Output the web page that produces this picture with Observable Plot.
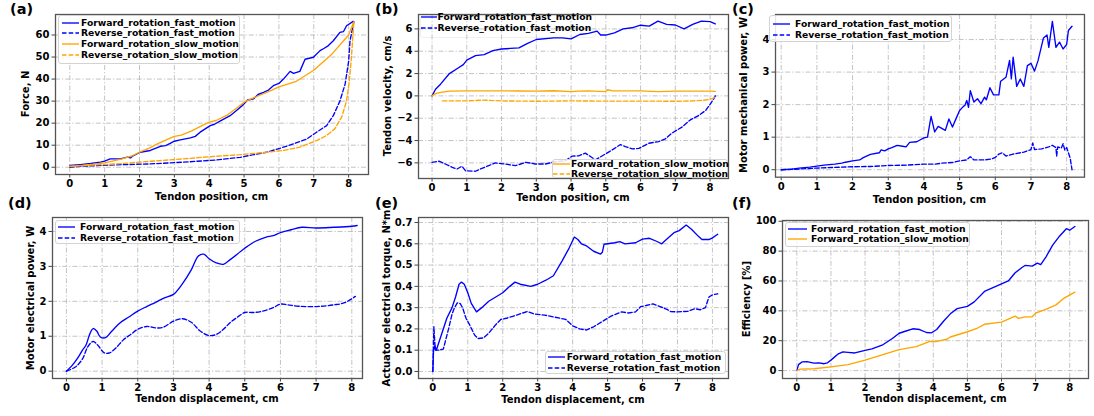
<!DOCTYPE html>
<html><head><meta charset="utf-8">
<script src="https://cdn.jsdelivr.net/npm/d3@7"></script>
<script src="https://cdn.jsdelivr.net/npm/@observablehq/plot@0.6"></script>
<style>
body{margin:0;background:#fff;}
#fig{position:relative;width:1094px;height:416px;overflow:hidden;font-family:"DejaVu Sans",sans-serif;font-weight:bold;color:#000;background:#fff;}
.abs{position:absolute;white-space:nowrap;line-height:1;}
.leg{position:absolute;background:rgba(255,255,255,0.85);border:1px solid #d3d3d3;border-radius:3px;box-sizing:border-box;}
</style></head><body><div id="fig"></div>
<script>
// ---------- data ----------
const xTicks = [0,1,2,3,4,5,6,7,8];
const seriesNames = ["Forward_rotation_fast_motion","Reverse_rotation_fast_motion","Forward_rotation_slow_motion","Reverse_rotation_slow_motion"];

// (a) Force, N vs tendon position
const aFwdFast = [[0,0.8],[0.3,1.2],[0.6,1.7],[0.88,2.3],[1.0,2.8],[1.16,3.8],[1.45,3.8],[1.65,4.6],[1.74,4.2],[1.8,5.0],[2.02,6.8],[2.31,7.6],[2.6,9.5],[2.75,9.8],[2.88,10.8],[3.0,11.8],[3.17,12.4],[3.46,13.3],[3.6,14.0],[3.74,15.9],[4.03,18.9],[4.15,19.5],[4.31,20.9],[4.6,23.4],[4.8,26],[4.98,28.4],[5.1,30.5],[5.27,31],[5.4,33],[5.56,34],[5.7,35],[5.84,37],[6.0,38],[6.13,40],[6.32,43.5],[6.42,42.6],[6.6,43.5],[6.75,49],[6.99,49.9],[7.18,52.9],[7.3,54],[7.42,55.2],[7.56,57.4],[7.75,61.2],[7.85,61.5],[7.94,64.2],[8.13,66.2]];
const aRevFast = [[0,0],[0.4,0.5],[1.36,1.1],[2.31,1.5],[3.26,2.3],[4.22,3.3],[4.89,4.5],[5.27,5.7],[5.65,6.8],[6.03,8.6],[6.42,10.6],[6.8,12.8],[7.08,15.9],[7.37,18.9],[7.56,23.4],[7.75,30],[7.9,37.8],[8.0,48],[8.04,57.4],[8.15,66]];
const aFwdSlow = [[0,0.3],[0.5,1.0],[1.0,2.0],[1.5,3.8],[1.8,5.2],[2.0,6.8],[2.3,8.8],[2.5,10.5],[2.8,12.6],[3.0,14],[3.2,14.6],[3.5,16.5],[3.75,18.5],[4.0,20.5],[4.2,21.2],[4.5,23.5],[4.8,27],[5.0,29.5],[5.2,31],[5.5,33],[5.8,35],[6.0,36.5],[6.5,39],[7.0,44],[7.5,51],[8.0,60],[8.15,66]];
const aRevSlow = [[0,0.5],[0.4,0.8],[1.36,1.5],[2.31,2.7],[3.26,3.8],[4.22,5],[4.89,5.7],[5.65,6.8],[6.13,7.6],[6.6,9.1],[7.08,12.1],[7.37,14.4],[7.6,17.4],[7.8,22.7],[7.94,30],[8.02,39],[8.08,50],[8.15,66]];

// (b) Tendon velocity, cm/s
const bFwdFast = [[0,0],[0.1,0.6],[0.25,1.07],[0.5,2.0],[0.75,2.5],[0.9,2.8],[1.0,3.2],[1.25,3.6],[1.5,3.7],[1.75,4.05],[2.0,4.2],[2.25,4.25],[2.5,4.3],[2.75,4.7],[3.0,5.05],[3.5,5.2],[3.75,5.2],[4.0,5.1],[4.25,5.5],[4.5,5.6],[4.75,5.8],[4.85,5.45],[5.0,5.45],[5.25,5.65],[5.5,6.0],[5.75,6.1],[6.0,6.33],[6.25,6.25],[6.5,6.7],[6.75,6.4],[7.0,6.35],[7.25,6.0],[7.5,6.4],[7.75,6.7],[8.0,6.65],[8.15,6.45]];
const bRevFast = [[0,-5.95],[0.2,-5.85],[0.38,-6.1],[0.58,-6.4],[0.72,-6.55],[0.86,-6.3],[0.96,-6.7],[1.25,-6.75],[1.39,-6.55],[1.63,-6.25],[1.82,-6.0],[2.1,-6.1],[2.4,-6.25],[2.7,-5.95],[2.97,-6.1],[3.26,-6.1],[3.55,-5.9],[3.84,-5.8],[4.03,-5.4],[4.22,-5.37],[4.41,-5.13],[4.7,-5.73],[4.8,-5.55],[4.99,-5.2],[5.23,-4.75],[5.42,-4.36],[5.56,-4.54],[5.76,-4.75],[5.95,-4.7],[6.24,-4.24],[6.52,-4.1],[6.71,-3.85],[6.9,-3.34],[7.19,-2.8],[7.43,-2.15],[7.67,-1.76],[7.87,-1.31],[8.01,-0.72],[8.12,-0.18],[8.15,0]];
const bFwdSlow = [[0,0],[0.1,0.2],[0.25,0.32],[0.5,0.42],[1,0.45],[1.5,0.45],[2,0.45],[2.5,0.44],[3,0.43],[3.5,0.46],[4,0.38],[4.2,0.43],[4.5,0.45],[5,0.38],[5.05,0.55],[5.2,0.45],[6,0.45],[6.5,0.38],[7,0.43],[7.5,0.42],[8,0.43],[8.15,0.4]];
const bRevSlow = [[0.3,-0.45],[1,-0.45],[1.5,-0.38],[2,-0.45],[3,-0.48],[4,-0.45],[5,-0.47],[6,-0.47],[7,-0.48],[7.5,-0.45],[7.8,-0.4],[8.0,-0.3],[8.1,-0.2],[8.15,0]];

// (c) Motor mechanical power, W
const cFwdFast = [[0,0],[0.3,0.02],[0.5,0.05],[0.8,0.08],[1.0,0.11],[1.2,0.14],[1.5,0.17],[1.7,0.2],[1.8,0.23],[2.0,0.27],[2.2,0.3],[2.3,0.37],[2.5,0.47],[2.75,0.52],[2.8,0.61],[2.9,0.58],[3.0,0.64],[3.1,0.68],[3.25,0.75],[3.4,0.72],[3.5,0.7],[3.6,0.84],[3.8,0.86],[3.9,0.92],[4.0,0.98],[4.1,1.0],[4.2,1.64],[4.3,1.16],[4.4,1.33],[4.6,1.21],[4.7,1.56],[4.8,1.31],[4.9,1.57],[5.0,1.82],[5.1,1.94],[5.15,1.98],[5.2,2.13],[5.25,1.92],[5.3,2.43],[5.4,2.08],[5.5,2.18],[5.6,2.03],[5.7,2.23],[5.75,2.15],[5.85,2.52],[5.95,2.3],[6.1,2.3],[6.15,2.72],[6.3,2.84],[6.4,3.36],[6.45,2.79],[6.5,3.46],[6.6,2.56],[6.7,2.79],[6.8,2.56],[6.9,3.2],[7.0,3.27],[7.1,3.03],[7.2,3.36],[7.35,4.05],[7.45,4.14],[7.5,3.76],[7.6,4.56],[7.7,3.76],[7.8,3.92],[7.9,3.71],[8.0,3.85],[8.05,4.28],[8.15,4.41]];
const cRevFast = [[0,0],[0.5,0.02],[1.0,0.05],[1.5,0.07],[2.0,0.09],[2.5,0.1],[3.0,0.13],[3.5,0.14],[4.0,0.17],[4.3,0.17],[4.5,0.2],[4.8,0.22],[5.0,0.27],[5.2,0.3],[5.3,0.4],[5.4,0.3],[5.7,0.3],[5.9,0.33],[6.0,0.38],[6.1,0.48],[6.2,0.52],[6.3,0.42],[6.5,0.48],[6.8,0.54],[7.0,0.62],[7.05,0.82],[7.1,0.62],[7.3,0.64],[7.5,0.7],[7.6,0.75],[7.7,0.68],[7.72,0.42],[7.75,0.7],[7.85,0.66],[7.9,0.8],[7.95,0.6],[8.0,0.68],[8.05,0.52],[8.1,0.35],[8.15,0.0]];

// (d) Motor electrical power, W
const dFwdFast = [[0,0],[0.15,0.15],[0.3,0.35],[0.45,0.6],[0.55,0.75],[0.65,1.05],[0.75,1.22],[0.85,1.15],[0.95,0.98],[1.1,0.96],[1.25,1.12],[1.5,1.38],[1.75,1.55],[2.0,1.72],[2.25,1.85],[2.5,1.97],[2.75,2.1],[3.0,2.2],[3.25,2.5],[3.5,2.9],[3.7,3.3],[3.85,3.35],[4.0,3.22],[4.2,3.1],[4.4,3.06],[4.6,3.2],[5.0,3.52],[5.3,3.72],[5.6,3.84],[5.8,3.88],[6.0,3.97],[6.3,4.05],[6.6,4.12],[7.0,4.1],[7.5,4.12],[8.0,4.15],[8.15,4.17]];
const dRevFast = [[0,0],[0.25,0.12],[0.45,0.35],[0.6,0.7],[0.75,0.85],[0.9,0.72],[1.05,0.53],[1.2,0.52],[1.4,0.68],[1.6,0.9],[1.8,1.05],[2.0,1.2],[2.25,1.28],[2.5,1.24],[2.7,1.25],[3.0,1.43],[3.25,1.5],[3.5,1.4],[3.75,1.15],[4.0,1.02],[4.2,1.05],[4.4,1.2],[4.6,1.4],[4.8,1.55],[5.0,1.68],[5.25,1.68],[5.5,1.72],[5.8,1.82],[6.0,1.92],[6.2,1.9],[6.5,1.86],[7.0,1.85],[7.5,1.9],[7.8,1.96],[8.1,2.14]];

// (e) Actuator electrical torque, N*m
const eFwdFast = [[0,0],[0.02,0.1],[0.06,0.12],[0.1,0.1],[0.2,0.15],[0.3,0.2],[0.4,0.25],[0.55,0.3],[0.65,0.35],[0.75,0.41],[0.82,0.42],[0.9,0.41],[1.0,0.37],[1.1,0.32],[1.25,0.28],[1.4,0.3],[1.6,0.33],[1.8,0.35],[2.0,0.37],[2.2,0.4],[2.35,0.42],[2.5,0.41],[2.8,0.4],[3.0,0.41],[3.25,0.43],[3.45,0.45],[3.7,0.52],[3.9,0.58],[4.05,0.632],[4.15,0.62],[4.25,0.6],[4.4,0.59],[4.6,0.565],[4.8,0.552],[4.85,0.56],[4.9,0.598],[5.2,0.605],[5.35,0.61],[5.5,0.6],[5.8,0.605],[6.0,0.622],[6.2,0.626],[6.4,0.612],[6.55,0.6],[6.65,0.615],[6.9,0.652],[7.05,0.662],[7.25,0.688],[7.4,0.668],[7.6,0.635],[7.7,0.62],[7.9,0.62],[8.0,0.628],[8.15,0.645]];
const eRevFast = [[0,0.0],[0.03,0.21],[0.07,0.1],[0.15,0.1],[0.3,0.105],[0.45,0.2],[0.55,0.27],[0.62,0.3],[0.7,0.322],[0.78,0.32],[0.85,0.3],[0.95,0.25],[1.05,0.22],[1.2,0.17],[1.3,0.155],[1.45,0.158],[1.6,0.18],[1.8,0.22],[1.95,0.245],[2.1,0.25],[2.4,0.265],[2.7,0.282],[2.9,0.27],[3.2,0.265],[3.5,0.255],[3.8,0.245],[4.0,0.215],[4.2,0.2],[4.4,0.195],[4.6,0.21],[4.9,0.24],[5.1,0.26],[5.4,0.28],[5.6,0.275],[5.8,0.28],[5.95,0.305],[6.1,0.31],[6.3,0.318],[6.5,0.305],[6.7,0.292],[6.8,0.282],[7.0,0.28],[7.3,0.283],[7.5,0.295],[7.65,0.29],[7.8,0.3],[7.9,0.35],[8.0,0.36],[8.15,0.365]];

// (f) Efficiency [%]
const fFwdFast = [[0,0],[0.05,4],[0.15,5.8],[0.3,6],[0.5,5],[0.65,5.2],[0.8,4.6],[0.9,5.2],[1.0,7],[1.2,11],[1.35,12.5],[1.5,12.2],[1.7,11.8],[2.0,13.5],[2.2,14.5],[2.5,17],[2.8,21.5],[3.0,25],[3.2,26.5],[3.4,28],[3.6,27.5],[3.8,25.5],[3.95,25.3],[4.1,27.5],[4.3,33],[4.5,38],[4.7,41.5],[5.0,43],[5.2,46],[5.5,53],[5.7,55],[6.0,58],[6.2,60],[6.4,65.5],[6.6,69],[6.7,70.5],[6.9,70],[7.05,72],[7.15,71],[7.3,76],[7.5,84],[7.7,90],[7.9,95],[8.0,94],[8.15,96.5]];
const fFwdSlow = [[0,0],[0.1,1],[0.5,1.2],[1.0,2.5],[1.5,4],[2.0,7],[2.5,10.5],[3.0,14],[3.5,16],[3.9,19.5],[4.1,19.5],[4.4,21],[4.5,22.5],[5.0,26],[5.3,28.5],[5.5,31],[6.0,32.5],[6.2,34.5],[6.4,36.5],[6.5,35],[6.7,36],[6.9,36],[7.0,38.5],[7.3,41],[7.6,44],[7.8,48],[8.15,52.5]];

const panelLetters = ["(a)","(b)","(c)","(d)","(e)","(f)"];
const yLabels = ["Force, N","Tendon velocity, cm/s","Motor mechanical power, W","Motor electrical power, W","Actuator electrical torque, N*m","Efficiency [%]"];
const xLabels = ["Tendon position, cm","Tendon position, cm","Tendon position, cm","Tendon  displacement, cm","Tendon displacement, cm","Tendon displacement, cm"];
const yTicksA = [0,10,20,30,40,50,60];
const yTicksB = [-6,-4,-2,0,2,4,6];
const yTicksC = [0,1,2,3,4];
const yTicksD = [0,1,2,3,4];
const yTicksE = [0,0.1,0.2,0.3,0.4,0.5,0.6,0.7];
const yTicksF = [0,20,40,60,80,100];

// ---------- drawing ----------
const BLUE = "#0000ff", ORANGE = "#ffa500";
const fig = document.getElementById("fig");
const minus = d => d < 0 ? "\u2212" + Math.abs(d) : String(d);

const panels = [
  {frame:[55,14,368,174], x:[-0.41,8.57], y:[-3.3,69.3], yt:yTicksA, fmt:minus, ylx:25.5, xly:196.5, curve:"linear",
   series:[[aFwdFast,BLUE,0],[aRevFast,BLUE,1],[aFwdSlow,ORANGE,0],[aRevSlow,ORANGE,1]],
   legends:[{box:[57.5,15,239.5,63.5], s:[61.5,78.5], tx:81, rows:[[22.5,0,BLUE,0],[33.3,1,BLUE,1],[44.2,2,ORANGE,0],[55,3,ORANGE,1]]}]},
  {frame:[418,14,728,178], x:[-0.39,8.53], y:[-7.4,7.29], yt:yTicksB, fmt:minus, ylx:387.5, xly:198.3, curve:"linear",
   series:[[bFwdFast,BLUE,0],[bRevFast,BLUE,1],[bFwdSlow,ORANGE,0],[bRevSlow,ORANGE,1]],
   legends:[{box:[420,14.5,596,37.5], s:[420.5,437], tx:437.5, under:true, border:"#f0f0f0", rows:[[16.8,0,BLUE,0],[28.3,1,BLUE,1]]},
            {box:[552,158.5,727.5,177.5], s:[553,570], tx:571, rows:[[164.3,2,ORANGE,0],[174,3,ORANGE,1]]}]},
  {frame:[775,14,1084,176.7], x:[-0.16,8.5], y:[-0.23,4.77], yt:yTicksC, fmt:minus, ylx:744, xly:200, curve:"linear",
   series:[[cFwdFast,BLUE,0],[cRevFast,BLUE,1]],
   legends:[{box:[769,15,952,42], s:[773,790], tx:795, rows:[[24.3,0,BLUE,0],[35,1,BLUE,1]]}]},
  {frame:[52,217,362,378], x:[-0.39,8.3], y:[-0.21,4.4], yt:yTicksD, fmt:minus, ylx:30.8, xly:399.3, curve:"catmull-rom",
   series:[[dFwdFast,BLUE,0],[dRevFast,BLUE,1]],
   legends:[{box:[55,220,240,244], s:[58,75], tx:80, rows:[[227.3,0,BLUE,0],[238,1,BLUE,1]]}]},
  {frame:[418,217,728,378], x:[-0.41,8.46], y:[-0.033,0.7236], yt:yTicksE, fmt:d3.format(".1f"), ylx:386.5, xly:400, curve:"linear",
   series:[[eFwdFast,BLUE,0],[eRevFast,BLUE,1]],
   legends:[{box:[545,350.5,725.5,373.5], s:[548,565], tx:566.7, rows:[[356.7,0,BLUE,0],[367.7,1,BLUE,1]]}]},
  {frame:[782,220,1088,378], x:[-0.42,8.55], y:[-5.3,100.5], yt:yTicksF, fmt:minus, ylx:746.5, xly:399.3, curve:"linear",
   series:[[fFwdFast,BLUE,0],[fFwdSlow,ORANGE,0]],
   legends:[{box:[785,221.5,970,247], s:[788,807], tx:811, rows:[[229,0,BLUE,0],[239.3,2,ORANGE,0]]}]}
];
const letterPos = [[10,8.5],[375,8.5],[732,8.5],[8,203],[375,203],[732,203]];

function addText(txt, x, y, size, transform){
  const d = document.createElement("div");
  d.className = "abs";
  d.textContent = txt;
  d.style.left = x + "px"; d.style.top = y + "px";
  d.style.fontSize = size + "px";
  d.style.transform = transform;
  fig.appendChild(d);
  return d;
}
function addBox(lg){
  const [x0,y0,x1,y1] = lg.box;
  const box = document.createElement("div");
  box.className = "leg";
  box.style.left = x0 + "px"; box.style.top = y0 + "px";
  box.style.width = (x1 - x0) + "px"; box.style.height = (y1 - y0) + "px";
  if (lg.border) box.style.borderColor = lg.border;
  if (lg.under) box.style.background = "#fff";
  fig.appendChild(box);
}

panels.forEach((p, i) => {
  const [L,T,R,B] = p.frame;
  const mL = 34, mR = 6, mT = 6, mB = 22;
  const width = R - L + mL + mR, height = B - T + mT + mB;
  // legend boxes that sit beneath the curves
  p.legends.filter(lg => lg.under).forEach(addBox);
  const marks = [
    Plot.gridX(xTicks, {stroke:"#b4b4b4", strokeOpacity:1, strokeWidth:0.8, strokeDasharray:"5,2,1.2,2"}),
    Plot.gridY(p.yt, {stroke:"#b4b4b4", strokeOpacity:1, strokeWidth:0.8, strokeDasharray:"5,2,1.2,2"}),
    ...p.series.map(([data, color, dashed]) => Plot.line(data, {
      x: d => d[0], y: d => d[1], stroke: color, strokeWidth: 1.35,
      strokeDasharray: dashed ? "4.5,2.2" : null, curve: p.curve
    })),
    Plot.axisX(xTicks, {tickSize:3.5, tickPadding:2, label:null, stroke:"#444", tickFormat:d=>String(d)}),
    Plot.axisY(p.yt, {tickSize:3.5, tickPadding:2.5, label:null, stroke:"#444", tickFormat:p.fmt}),
    Plot.frame({stroke:"#555", strokeWidth:1.3})
  ];
  const svg = Plot.plot({
    width, height, marginLeft:mL, marginRight:mR, marginTop:mT, marginBottom:mB,
    x:{domain:p.x}, y:{domain:p.y},
    style:{fontFamily:"DejaVu Sans", fontWeight:"bold", fontSize:"10px", color:"#000", background:"transparent", overflow:"visible"},
    marks
  });
  const wrap = document.createElement("div");
  wrap.style.position = "absolute";
  wrap.style.left = (L - mL) + "px";
  wrap.style.top = (T - mT) + "px";
  wrap.appendChild(svg);
  fig.appendChild(wrap);

  addText(xLabels[i], (L + R) / 2, p.xly, 10, "translate(-50%,-50%)");
  addText(yLabels[i], p.ylx, (T + B) / 2, 10, "translate(-50%,-50%) rotate(-90deg)");
  addText(panelLetters[i], letterPos[i][0], letterPos[i][1], 14.5, "translate(0,-50%)");

  p.legends.forEach(lg => {
    if (!lg.under) addBox(lg);
    lg.rows.forEach(([yy, nameIdx, color, dashed]) => {
      const s = document.createElementNS("http://www.w3.org/2000/svg","svg");
      s.setAttribute("width", lg.s[1] - lg.s[0]);
      s.setAttribute("height", 4);
      s.style.position = "absolute";
      s.style.left = lg.s[0] + "px"; s.style.top = (yy - 2) + "px";
      const ln = document.createElementNS("http://www.w3.org/2000/svg","line");
      ln.setAttribute("x1", 0); ln.setAttribute("x2", lg.s[1] - lg.s[0]);
      ln.setAttribute("y1", 2); ln.setAttribute("y2", 2);
      ln.setAttribute("stroke", color); ln.setAttribute("stroke-width", 1.35);
      if (dashed) ln.setAttribute("stroke-dasharray", "4.5,2.2");
      s.appendChild(ln);
      fig.appendChild(s);
      addText(seriesNames[nameIdx], lg.tx, yy, 9.2, "translate(0,-50%)");
    });
  });
});
</script></body></html>
